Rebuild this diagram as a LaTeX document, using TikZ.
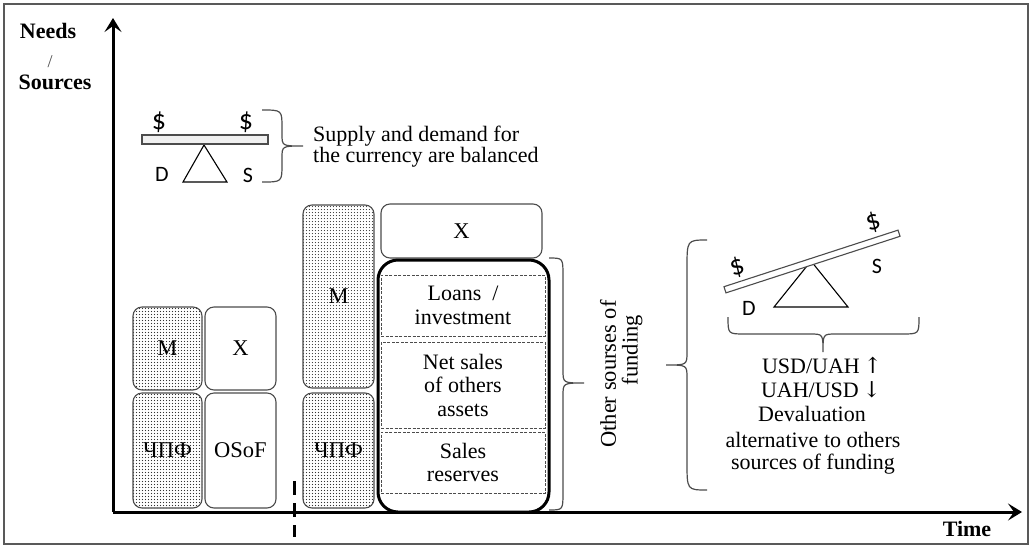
\documentclass[tikz,border=0pt]{standalone}
\usepackage{fontspec}
\setmainfont{Liberation Serif}
\newfontfamily\sansf{Carlito}
\newfontfamily\arrf{DejaVu Serif}
\usetikzlibrary{patterns,patterns.meta,arrows.meta}
\definecolor{edgegray}{gray}{0.3}
\definecolor{dotgray}{gray}{0.2}
\tikzdeclarepattern{
  name=bigdots,
  type=uncolored,
  bounding box={(0pt,0pt) and (3.4pt,3.4pt)},
  tile size={(3.4pt,3.4pt)},
  code={\fill (1.7pt,1.7pt) circle [radius=0.7pt];}
}
\begin{document}
\begin{tikzpicture}[x=1pt,y=-1pt,
  txt/.style={font=\fontsize{22}{24}\selectfont, inner sep=0pt},
  bold/.style={font=\fontsize{22}{24}\selectfont\bfseries, inner sep=0pt},
  sans/.style={font=\sansf\fontsize{22}{24}\selectfont, inner sep=0pt},
  dollar/.style={font=\sansf\fontsize{28}{30}\selectfont, inner sep=0pt},
  box/.style={draw=edgegray, line width=1.1pt, rounded corners=9pt, inner sep=0pt,
    align=center, font=\fontsize{22.5}{23.5}\selectfont},
  dotbox/.style={box, pattern=bigdots, pattern color=dotgray},
  bigbox/.style={draw=black, line width=3pt, rounded corners=20pt, inner sep=0pt},
  dashbox/.style={draw=edgegray, dashed, dash pattern=on 3pt off 1.5pt, line width=0.8pt,
    inner sep=0pt, align=center, font=\fontsize{22}{23.5}\selectfont},
  axis/.style={line width=3pt, -{Stealth[length=14pt,width=17pt,inset=6pt]}},
  bracepath/.style={draw=edgegray, line width=1.2pt},
  beam/.style={draw=edgegray, line width=1.1pt, fill=gray!12, inner sep=0pt},
  tri/.style={draw=black, line width=1.1pt}
]
\useasboundingbox (0,0) rectangle (1031,547);
\draw[gray!70!black, line width=1.2pt] (4,4) rectangle (1028,544);

% axes
\coordinate (O) at (113,512);
\coordinate (Ytop) at (113,18);
\coordinate (Xend) at (1022,512);
\draw[axis] (O) -- (Ytop);
\draw[axis] (O) -- (Xend);
\node[bold] (needs) at (48,31) {Needs};
\node[font=\fontsize{18}{20}\selectfont, text=gray!60!black, inner sep=0pt] (slash) at (50,62) {/};
\node[bold] (sources) at (55,82) {Sources};
\node[bold] (time) at (967,529) {Time};

% dashed divider
\coordinate (dtop) at (294,481);
\coordinate (dbot) at (294,537);
\draw[line width=3pt, dash pattern=on 14pt off 8pt] (dtop) -- (dbot);

% top-left balanced seesaw
\draw[tri] (204,145) -- (183,182) -- (227,182) -- cycle;
\node[beam, minimum width=126pt, minimum height=9pt] (beam1) at (205,139.5) {};
\node[dollar] (d1a) at (159,122) {\$};
\node[dollar] (d1b) at (246,122) {\$};
\node[sans] (D1) at (162,174) {D};
\node[sans] (S1) at (248,175) {S};
\draw[bracepath] (262,110) .. controls (282,110) .. (282,128) -- (282,134)
  .. controls (282,146) .. (303,146) .. controls (282,146) .. (282,158) -- (282,164)
  .. controls (282,182) .. (262,182);
\node[txt, anchor=base west] (sd1) at (313,141) {Supply and demand for};
\node[txt, anchor=base west] (sd2) at (313,162) {the currency are balanced};

% left stack
\node[dotbox, minimum width=69pt, minimum height=83pt] (Ml) at (167.5,348.5) {M};
\node[box, minimum width=71pt, minimum height=83pt] (Xl) at (240.5,348.5) {X};
\node[dotbox, minimum width=69pt, minimum height=115pt] (Cl) at (167.5,450.5) {ЧПФ};
\node[box, minimum width=71pt, minimum height=115pt] (Ol) at (240.5,450.5) {OSoF};

% middle stack
\node[dotbox, minimum width=71pt, minimum height=183pt] (Mm) at (338.5,296.5) {M};
\node[dotbox, minimum width=71pt, minimum height=115pt] (Cm) at (338.5,450.5) {ЧПФ};
\node[box, minimum width=161pt, minimum height=54pt] (Xt) at (461.5,231) {X};
\node[dashbox, minimum width=164pt, minimum height=61pt] (loans) at (463,305.5) {Loans~~/\\investment};
\node[dashbox, minimum width=164pt, minimum height=86pt] (net) at (463,385) {Net sales\\of others\\assets};
\node[dashbox, minimum width=164pt, minimum height=61pt] (sales) at (463,462.5) {Sales\\reserves};
\node[bigbox, minimum width=171pt, minimum height=252pt] (big) at (463.5,386) {};

% brace for other sources
\draw[bracepath] (549,258) .. controls (563,258) .. (563,276) -- (563,370)
  .. controls (563,383) .. (584,383) .. controls (563,383) .. (563,396) -- (563,492)
  .. controls (563,510) .. (549,510);
\node[txt, rotate=90, font=\fontsize{22.5}{24}\selectfont] (oth1) at (608,374) {Other sourses of};
\node[txt, rotate=90, font=\fontsize{22.5}{24}\selectfont] (oth2) at (632,350) {funding};

% big left brace
\draw[bracepath] (707,240) .. controls (687,240) .. (687,268) -- (687,352)
  .. controls (687,365) .. (666,365) .. controls (687,365) .. (687,378) -- (687,462)
  .. controls (687,490) .. (707,490);

% tilted seesaw
\draw[tri] (811,261) -- (774,307) -- (848,307) -- cycle;
\node[beam, fill=white, rotate=18, minimum width=183pt, minimum height=6.5pt] (beam2) at (812,261.5) {};
\node[dollar, rotate=18] (d2a) at (737,267) {\$};
\node[dollar, rotate=18] (d2b) at (873,222) {\$};
\node[sans] (S2) at (877,266) {S};
\node[sans] (D2) at (749,308) {D};
\draw[bracepath] (728,317) .. controls (728,334) .. (745,334) -- (810,334)
  .. controls (823,334) .. (823,352) .. controls (823,334) .. (836,334) -- (902,334)
  .. controls (919,334) .. (919,317);

\node[txt, anchor=base] (r1) at (822,373) {USD/UAH\,{\arrf↑}};
\node[txt, anchor=base] (r2) at (821,397) {UAH/USD\,{\arrf↓}};
\node[txt, anchor=base] (r3) at (812,421) {Devaluation};
\node[txt, anchor=base] (r4) at (813,447) {alternative to others};
\node[txt, anchor=base] (r5) at (813,469) {sources of funding};
\end{tikzpicture}
\end{document}
